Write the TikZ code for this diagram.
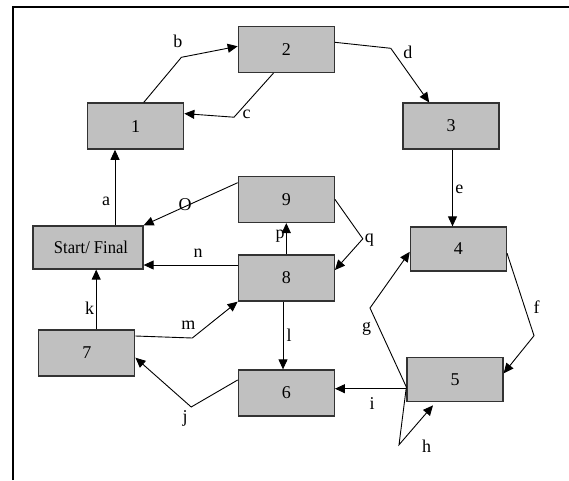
\documentclass[tikz,border=0pt]{standalone}
\usepackage{fontspec}
\setmainfont{Liberation Serif}
\newfontfamily\narrowfont[FakeStretch=0.92]{Liberation Serif}
\usepackage{tikz}
\usetikzlibrary{arrows.meta,positioning,calc}
\definecolor{boxgray}{RGB}{192,192,192}
\definecolor{edgegray}{RGB}{51,51,51}

\begin{document}
\begin{tikzpicture}[x=1pt,y=-1pt,
    state/.style={draw=edgegray,line width=1.3pt,fill=boxgray,minimum width=96pt,minimum height=46pt,inner sep=0pt,font=\fontsize{18}{21}\selectfont},
    arr/.style={line width=0.9pt,-{Triangle[length=10pt,width=9pt]}},
    lbl/.style={inner sep=0pt,font=\fontsize{18}{21}\selectfont}]
    \useasboundingbox (0,0) rectangle (569,480);
    % frame
    \draw[line width=2pt] (13,480) -- (13,7.3) -- (569,7.3);

    % states
    \node[state] (n1) at (135.7,126.1) {1};
    \node[state] (n2) at (286.3,49.3) {2};
    \node[state] (n3) at (451,126.1) {3};
    \node[state] (n9) at (286.3,199.4) {9};
    \node[state,minimum width=110pt,minimum height=43pt,font=\fontsize{18}{21}\narrowfont] (start) at (88,247.5) {\hspace*{6pt}Start/ Final};
    \node[state,minimum height=44pt] (n4) at (458.4,249) {4};
    \node[state,minimum height=44pt] (n5) at (455,379.7) {5};
    \node[state] (n8) at (286.3,278) {8};
    \node[state] (n7) at (86.8,353) {7};
    \node[state] (n6) at (286.3,393) {6};

    % bend points
    \coordinate (b1) at (181.4,57.3);
    \coordinate (c1) at (234,117.2);
    \coordinate (d1) at (390.8,48.3);
    \coordinate (f1) at (534,335.7);
    \coordinate (g1) at (370,308);
    \coordinate (h1) at (399,444.8);
    \coordinate (j1) at (191.2,407);
    \coordinate (m1) at (192.3,338);
    \coordinate (q1) at (362.8,238.8);

    % transitions
    \draw[arr] ([xshift=27]start.north) -- ([xshift=27]start.north |- n1.south);
    \draw[arr] ([xshift=8]n1.north) -- (b1) -- ([yshift=3]n2.west);
    \draw[arr] ([xshift=-12.7]n2.south) -- (c1) -- ([yshift=12.5]n1.east);
    \draw[arr] ([yshift=7]n2.east) -- (d1) -- ([xshift=-21.8]n3.north);
    \draw[arr] ([xshift=1.5]n3.south) -- ([xshift=1.5]n3.south |- n4.north);
    \draw[arr] ([yshift=-4.3]n4.east) -- (f1) -- ([yshift=6.4]n5.east);
    \draw[arr] ([yshift=-7.3]n5.west) -- (g1) -- ([yshift=-2.8]n4.west);
    \draw[arr] ([yshift=-7.3]n5.west) -- (h1) -- ([xshift=-22,yshift=-3]n5.south);
    \draw[arr] ([yshift=-9]n5.west) -- ([yshift=-9]n5.west -| n6.east);
    \draw[arr] ([yshift=13]n6.west) -- (j1) -- ([yshift=-4.7]n7.east);
    \draw[arr] ([xshift=9.4]n7.north) -- ([xshift=9.4]n7.north |- start.south);
    \draw[arr] ([xshift=-3.3]n8.south) -- ([xshift=-3.3]n8.south |- n6.north);
    \draw[arr] ([yshift=17]n7.east) -- (m1) -- (n8.south west);
    \draw[arr] ([yshift=13]n8.west) -- ([yshift=13]n8.west -| start.east);
    \draw[arr] ([yshift=16.7]n9.west) -- (start.north east);
    \draw[arr] (n8.north) -- (n9.south);
    \draw[arr] (n9.east) -- (q1) -- ([yshift=8]n8.east);

    % labels
    \node[lbl] (la) at (106,201) {a};
    \node[lbl] (lb) at (177.8,41.7) {b};
    \node[lbl] (lc) at (246.7,114.7) {c};
    \node[lbl] (ld) at (407.8,52.6) {d};
    \node[lbl] (le) at (459.4,189) {e};
    \node[lbl] (lf) at (536.7,307.3) {f};
    \node[lbl] (lg) at (366.5,328.7) {g};
    \node[lbl] (lh) at (426.7,446) {h};
    \node[lbl] (li) at (372,403.4) {i};
    \node[lbl] (lj) at (185,418.7) {j};
    \node[lbl] (lk) at (89.6,308) {k};
    \node[lbl] (ll) at (289,335.2) {l};
    \node[lbl] (lm) at (188.3,325) {m};
    \node[lbl] (ln) at (198,252.9) {n};
    \node[lbl] (lo) at (185,205) {O};
    \node[lbl] (lp) at (280,236) {p};
    \node[lbl] (lq) at (369.4,240.2) {q};
\end{tikzpicture}
\end{document}
